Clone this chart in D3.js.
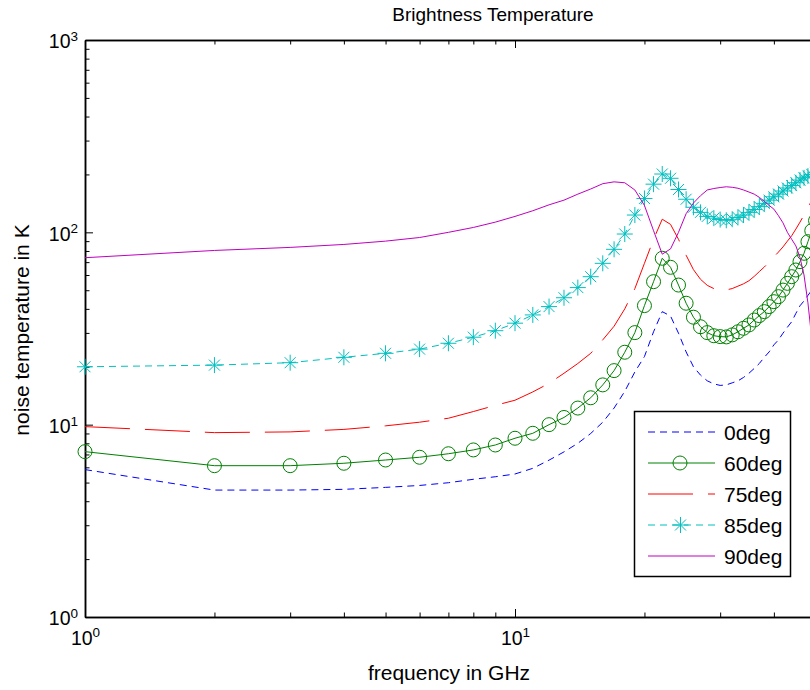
<!DOCTYPE html>
<html>
<head>
<meta charset="utf-8">
<script src="https://cdn.jsdelivr.net/npm/d3@7"></script>
<style>
body { margin: 0; background: #fff; }
text { font-family: "Liberation Sans", Arial, sans-serif; fill: #000; }
</style>
</head>
<body>
<div id="chart"></div>
<script>
const width = 810, height = 690;

// frequencies in GHz (one sample per GHz)
const freq = [1, 2, 3, 4, 5, 6, 7, 8, 9, 10, 11, 12, 13, 14, 15, 16, 17, 18, 19, 20,
  21, 22, 23, 24, 25, 26, 27, 28, 29, 30, 31, 32, 33, 34, 35, 36, 37, 38, 39, 40,
  41, 42, 43, 44, 45, 46, 47, 48, 49, 50];

// noise temperature in K per elevation
const t0deg = [5.84, 4.57, 4.57, 4.61, 4.72, 4.83, 4.99, 5.2, 5.36, 5.54, 5.93, 6.54, 7.22, 8.0, 9.0, 10.3, 12.2, 14.9, 18.8, 22.6,
  30.4, 38.7, 36.7, 29.9, 23.9, 20.0, 18.1, 16.9, 16.3, 16.0, 16.1, 16.5, 16.9, 17.6, 18.5, 19.6, 20.8, 22.4, 23.9, 26.0,
  27.6, 29.9, 32.1, 34.3, 37.9, 41.5, 44, 47, 50, 55];
const t60deg = [7.24, 6.12, 6.12, 6.3, 6.55, 6.77, 7.06, 7.39, 7.84, 8.5, 9.02, 10.0, 10.9, 12.2, 13.8, 16.1, 19.1, 23.8, 30.1, 41.6,
  55.4, 73.3, 65.8, 53.2, 42.8, 36.2, 32.3, 30.1, 29.0, 28.7, 28.6, 29.3, 30.4, 31.7, 33.0, 35.0, 36.9, 38.7, 41.1, 43.6,
  46.3, 50.1, 54.3, 58.8, 63.7, 70.4, 77.8, 89.4, 102, 115];
const t75deg = [9.77, 9.09, 9.17, 9.45, 9.86, 10.3, 10.8, 11.7, 12.6, 13.4, 14.8, 16.4, 18.5, 20.8, 23.5, 27.6, 32.5, 40, 51, 69,
  92, 117, 110, 92, 76, 64, 57, 53, 51, 50, 50.2, 51, 52.5, 54, 56, 59, 62.5, 66, 70, 74.5,
  79, 84, 90, 96, 104, 113, 123, 134, 147, 160];
const t85deg = [20.0, 20.4, 21.0, 22.4, 23.5, 24.7, 26.5, 28.5, 30.8, 33.7, 37.2, 41.1, 45.7, 51.6, 58.8, 69.0, 81.6, 98, 123, 150,
  178, 201, 191, 167, 148.6, 135, 127, 121, 118.5, 116.5, 115.5, 117, 119.5, 123, 127, 131.5, 136, 141.5, 147, 153,
  158, 164, 170, 175, 181, 187, 192, 196, 200, 204];
const t90deg = [73.8, 80.5, 83.5, 86.5, 90, 94, 100, 106, 113, 121, 129.5, 139, 147, 158, 168, 179, 183, 181, 166, 138,
  102, 77, 82, 100, 125, 142, 155, 166, 169, 171, 172.5, 171.5, 169.5, 166, 162, 158, 152, 145, 138, 132,
  122, 112, 100, 92, 85, 74, 60, 43, 28, 18];

const seriesNames = ["0deg", "60deg", "75deg", "85deg", "90deg"];

const series = [
  { name: seriesNames[0], values: t0deg, color: "#0000ff", dash: "7,5", marker: null },
  { name: seriesNames[1], values: t60deg, color: "#008000", dash: null, marker: "circle" },
  { name: seriesNames[2], values: t75deg, color: "#ff0000", dash: "45,15", marker: null },
  { name: seriesNames[3], values: t85deg, color: "#00bfbf", dash: "7,5", marker: "star" },
  { name: seriesNames[4], values: t90deg, color: "#bf00bf", dash: null, marker: null }
];

const margin = { left: 85, top: 40, bottom: 617, right: 945 };

const svg = d3.select("#chart").append("svg")
    .attr("width", width)
    .attr("height", height);

const x = d3.scaleLog().domain([1, 100]).range([margin.left, margin.right]);
const y = d3.scaleLog().domain([1, 1000]).range([margin.bottom, margin.top]);

const minorX = [2, 3, 4, 5, 6, 7, 8, 9, 20, 30, 40, 50, 60, 70, 80, 90];
const minorY = [];
[1, 10, 100].forEach(d => { for (let k = 2; k < 10; k++) minorY.push(d * k); });

// superscript tick labels like 10^1
function powLabel(sel) {
  sel.each(function (d) {
    const t = d3.select(this).text(null);
    t.append("tspan").text("10");
    t.append("tspan").attr("dy", "-0.55em").attr("font-size", "13.5px")
      .text(Math.round(Math.log10(d)));
  });
}

function styleAxis(g) {
  g.select(".domain").attr("stroke", "#000").attr("stroke-width", 1.5);
  g.selectAll(".tick line").attr("stroke", "#000").attr("stroke-width", 1);
}

// bottom axis (the 100 GHz end lies outside the picture, so only 1 and 10 get labels)
svg.append("g").attr("transform", `translate(0,${margin.bottom})`)
    .call(d3.axisBottom(x).tickValues([1, 10]).tickSizeInner(-8).tickSizeOuter(0).tickPadding(14))
    .call(styleAxis)
    .call(g => g.selectAll(".tick text").attr("font-size", "19.5px").call(powLabel));
svg.append("g").attr("transform", `translate(0,${margin.bottom})`)
    .call(d3.axisBottom(x).tickValues(minorX).tickSizeInner(-4.5).tickSizeOuter(0).tickFormat(""))
    .call(styleAxis);

// top axis
svg.append("g").attr("transform", `translate(0,${margin.top})`)
    .call(d3.axisTop(x).tickValues([1, 10]).tickSizeInner(-8).tickSizeOuter(0).tickFormat(""))
    .call(styleAxis);
svg.append("g").attr("transform", `translate(0,${margin.top})`)
    .call(d3.axisTop(x).tickValues(minorX).tickSizeInner(-4.5).tickSizeOuter(0).tickFormat(""))
    .call(styleAxis);

// left axis
svg.append("g").attr("transform", `translate(${margin.left},0)`)
    .call(d3.axisLeft(y).tickValues([1, 10, 100, 1000]).tickSizeInner(-8).tickSizeOuter(0).tickPadding(7))
    .call(styleAxis)
    .call(g => g.selectAll(".tick text").attr("font-size", "19.5px").attr("dy", "0.4em").call(powLabel));
svg.append("g").attr("transform", `translate(${margin.left},0)`)
    .call(d3.axisLeft(y).tickValues(minorY).tickSizeInner(-4.5).tickSizeOuter(0).tickFormat(""))
    .call(styleAxis);

// lines
const line = d3.line().x(d => x(d[0])).y(d => y(d[1]));

const starPath = "M-8,0H8M0,-8V8M-5.5,-5.5L5.5,5.5M-5.5,5.5L5.5,-5.5";

series.forEach(s => {
  const pts = freq.map((f, i) => [f, s.values[i]]);
  svg.append("path")
      .datum(pts)
      .attr("d", line)
      .attr("fill", "none")
      .attr("stroke", s.color)
      .attr("stroke-width", 1)
      .attr("stroke-dasharray", s.dash);
  if (s.marker === "circle") {
    svg.append("g").selectAll("circle")
      .data(pts).enter().append("circle")
        .attr("cx", d => x(d[0]))
        .attr("cy", d => y(d[1]))
        .attr("r", 7)
        .attr("fill", "none")
        .attr("stroke", s.color)
        .attr("stroke-width", 1);
  } else if (s.marker === "star") {
    svg.append("g").selectAll("path")
      .data(pts).enter().append("path")
        .attr("transform", d => `translate(${x(d[0])},${y(d[1])})`)
        .attr("d", starPath)
        .attr("stroke", s.color)
        .attr("stroke-width", 1);
  }
});

// titles
svg.append("text")
    .attr("x", 493).attr("y", 21)
    .attr("text-anchor", "middle")
    .attr("font-size", "19px")
    .text("Brightness Temperature");

svg.append("text")
    .attr("x", 449).attr("y", 680)
    .attr("text-anchor", "middle")
    .attr("font-size", "21px")
    .text("frequency in GHz");

svg.append("text")
    .attr("transform", "translate(29,330) rotate(-90)")
    .attr("text-anchor", "middle")
    .attr("font-size", "21px")
    .text("noise temperature in K");

// legend
const legend = svg.append("g");
legend.append("rect")
    .attr("x", 634.5).attr("y", 411.5)
    .attr("width", 156).attr("height", 165)
    .attr("fill", "#fff")
    .attr("stroke", "#000")
    .attr("stroke-width", 1.5);

series.forEach((s, i) => {
  const ly = 432 + i * 31;
  legend.append("line")
      .attr("x1", 648).attr("x2", 715)
      .attr("y1", ly).attr("y2", ly)
      .attr("stroke", s.color)
      .attr("stroke-width", 1)
      .attr("stroke-dasharray", s.dash);
  if (s.marker === "circle") {
    legend.append("circle").attr("cx", 680).attr("cy", ly).attr("r", 7)
        .attr("fill", "none").attr("stroke", s.color);
  } else if (s.marker === "star") {
    legend.append("path").attr("transform", `translate(680.5,${ly})`)
        .attr("d", starPath).attr("stroke", s.color);
  }
  legend.append("text")
      .attr("x", 724).attr("y", ly + 7.5)
      .attr("font-size", "21px")
      .text(s.name);
});
</script>
</body>
</html>
